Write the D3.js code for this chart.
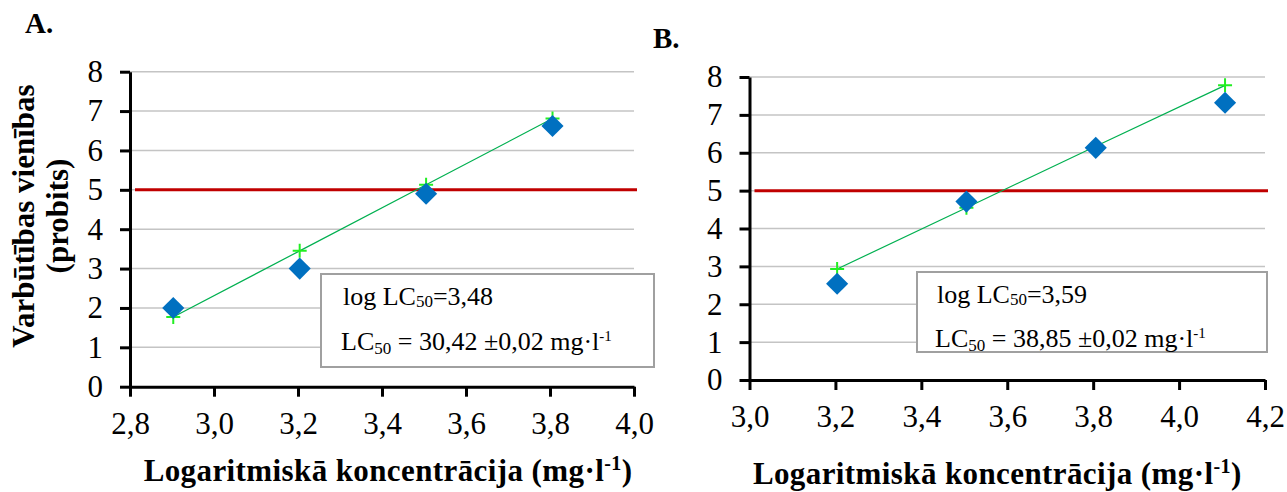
<!DOCTYPE html>
<html>
<head>
<meta charset="utf-8">
<script src="https://cdn.jsdelivr.net/npm/d3@7"></script>
<style>
  body { margin: 0; background: #fff; }
  svg { display: block; }
  svg text { font-family: 'Liberation Serif', 'Times New Roman', serif; }
</style>
</head>
<body>
<svg id="chart" width="1287" height="492"></svg>
<script>
// log10 of test concentrations and probit values
const xA = [2.903, 3.204, 3.505, 3.806]
const observedA = [2.0, 3.0, 4.9, 6.62]
const fittedA = [1.77, 3.45, 5.13, 6.81]

const xB = [3.204, 3.505, 3.806, 4.107]
const observedB = [2.54, 4.71, 6.13, 7.32]
const fittedB = [2.93, 4.55, 6.17, 7.78]

const yTicks = [0, 1, 2, 3, 4, 5, 6, 7, 8]
const xTicksA = [2.8, 3.0, 3.2, 3.4, 3.6, 3.8, 4.0]
const xTicksB = [3.0, 3.2, 3.4, 3.6, 3.8, 4.0, 4.2]
const probitLevel = 5

const logLC = ["3,48", "3,59"]
const lcValue = ["30,42 ±0,02", "38,85 ±0,02"]

const svg = d3.select("#chart")
const fmt = (d) => d3.format(".1f")(d).replace(".", ",")

function drawPanel(p) {
  const x = d3.scaleLinear().domain(d3.extent(p.xTicks)).range([p.left, p.right])
  const y = d3.scaleLinear().domain([0, 8]).range([p.bottom, p.top])
  const g = svg.append("g")

  // gridlines
  g.selectAll("line.grid")
    .data(yTicks.filter((d) => d > 0))
    .enter()
    .append("line")
    .attr("x1", p.left)
    .attr("x2", p.right)
    .attr("y1", (d) => y(d))
    .attr("y2", (d) => y(d))
    .style("stroke", "#c4c4c4")
    .style("stroke-width", 1.5)

  // probit 5 line
  g.append("line")
    .attr("x1", p.left + 5)
    .attr("x2", p.right + 3)
    .attr("y1", y(probitLevel))
    .attr("y2", y(probitLevel))
    .style("stroke", "#c00000")
    .style("stroke-width", 3)

  // legend box with LC50 values
  const box = g.append("g")
  box.append("rect")
    .attr("x", p.box[0])
    .attr("y", p.box[1])
    .attr("width", p.box[2])
    .attr("height", p.box[3])
    .style("fill", "#fff")
    .style("stroke", "#a0a0a0")
    .style("stroke-width", 2)

  const t1 = box.append("text")
    .attr("x", p.box[0] + p.textDx)
    .attr("y", p.box[1] + 31)
    .style("font-size", "26px")
  t1.append("tspan").text("log LC")
  t1.append("tspan").attr("dy", 2).style("font-size", "17px").text("50")
  t1.append("tspan").attr("dy", -2).text("=" + p.logLC)

  const t2 = box.append("text")
    .attr("x", p.box[0] + p.textDx - 2)
    .attr("y", p.box[1] + p.line2)
    .style("font-size", "26px")
  t2.append("tspan").text("LC")
  t2.append("tspan").attr("dy", 4).style("font-size", "17px").text("50")
  t2.append("tspan").attr("dy", -4).text(" = " + p.lcValue + " mg·l")
  t2.append("tspan").attr("dy", -9).style("font-size", "15px").text("-1")

  // fitted line and points
  const fit = p.xs.map((d, i) => [d, p.fitted[i]])
  g.append("path")
    .datum(fit)
    .attr("d", d3.line().x((d) => x(d[0])).y((d) => y(d[1])))
    .style("fill", "none")
    .style("stroke", "#00b050")
    .style("stroke-width", 1.2)

  g.selectAll("path.plus")
    .data(fit)
    .enter()
    .append("path")
    .attr("d", (d) => {
      const cx = x(d[0]), cy = y(d[1])
      return `M${cx - 7},${cy}H${cx + 7}M${cx},${cy - 7}V${cy + 7}`
    })
    .style("stroke", "#22ee22")
    .style("stroke-width", 2)

  // observed points (diamonds)
  g.selectAll("path.obs")
    .data(p.xs.map((d, i) => [d, p.observed[i]]))
    .enter()
    .append("path")
    .attr("d", d3.symbol().type(d3.symbolSquare).size(245))
    .attr("transform", (d) => `translate(${x(d[0])},${y(d[1])}) rotate(45)`)
    .style("fill", "#0070c0")

  // axes
  const yAxis = g.append("g")
    .attr("transform", `translate(${p.left},0)`)
    .call(d3.axisLeft(y).tickValues(yTicks).tickSize(10).tickPadding(17).tickSizeOuter(0))
  const xAxis = g.append("g")
    .attr("transform", `translate(0,${p.bottom})`)
    .call(d3.axisBottom(x).tickValues(p.xTicks).tickFormat(fmt).tickSize(10).tickPadding(15).tickSizeOuter(0))

  ;[yAxis, xAxis].forEach((a) => {
    a.attr("font-family", "'Liberation Serif', serif").attr("font-size", 31)
    a.select(".domain").style("stroke", "#000").style("stroke-width", 3)
    a.selectAll(".tick line").style("stroke", "#000").style("stroke-width", 3)
    a.selectAll("text").style("fill", "#000")
  })

  // x axis title
  const xt = g.append("text")
    .attr("x", (p.left + p.right) / 2 + p.titleShift)
    .attr("y", p.titleY)
    .attr("text-anchor", "middle")
    .style("font-weight", "bold")
    .style("font-size", "31px")
    .style("letter-spacing", "0.4px")
  xt.append("tspan").text("Logaritmiskā koncentrācija (mg·l")
  xt.append("tspan").attr("dy", -11).style("font-size", "20px").text("-1")
  xt.append("tspan").attr("dy", 11).text(")")

  // panel letter
  g.append("text")
    .attr("x", p.label[0])
    .attr("y", p.label[1])
    .style("font-weight", "bold")
    .style("font-size", "29px")
    .text(p.name)

  return { x, y }
}

drawPanel({
  name: "A.", label: [25, 33],
  xs: xA, observed: observedA, fitted: fittedA, xTicks: xTicksA,
  left: 130, right: 634, top: 71.7, bottom: 386.7,
  box: [321, 274, 333, 93], textDx: 22, line2: 76,
  logLC: logLC[0], lcValue: lcValue[0],
  titleY: 481, titleShift: 6
})

drawPanel({
  name: "B.", label: [653, 48],
  xs: xB, observed: observedB, fitted: fittedB, xTicks: xTicksB,
  left: 749.5, right: 1265, top: 77, bottom: 380,
  box: [917, 272, 350, 80], textDx: 20, line2: 75,
  logLC: logLC[1], lcValue: lcValue[1],
  titleY: 484, titleShift: -10
})

// y axis title (panel A only)
const yt = svg.append("text")
  .attr("transform", "translate(0,216) rotate(-90)")
  .attr("text-anchor", "middle")
  .style("font-weight", "bold")
  .style("font-size", "31px")
yt.append("tspan").attr("x", 0).attr("y", 34).text("Varbūtības vienības")
yt.append("tspan").attr("x", 0).attr("y", 68).text("(probits)")
</script>
</body>
</html>
